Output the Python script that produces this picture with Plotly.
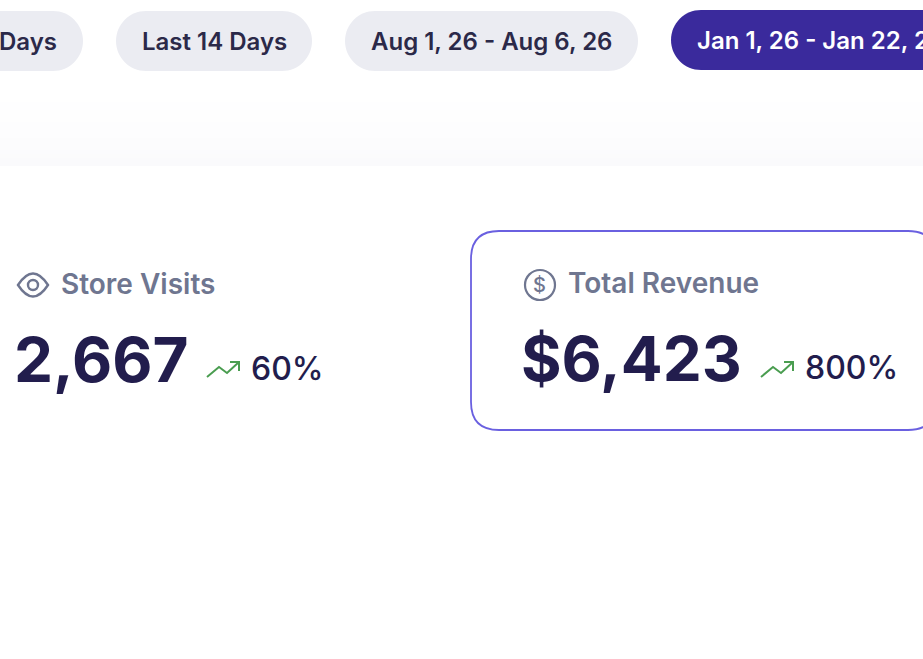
import plotly.graph_objects as go

range_labels = ['Last 7 Days', 'Last 14 Days', 'Aug 1, 26 - Aug 6, 26', 'Jan 1, 26 - Jan 22, 26']
metric_names = ['Store Visits', 'Total Revenue']
metric_values = ['2,667', '$6,423']
metric_changes = ['60%', '800%']

DARK = '#221d4d'
PILL_TEXT = '#2b2949'
GREY = '#6f7690'
GREEN = '#4a9d50'
FONT = 'Inter'


def pill(x0, x1, y0, y1, color):
    # plotly does not take SVG arcs on data axes, so the round ends are cubic curves
    r = (y1 - y0) / 2
    k = r * 0.5523
    path = (
        f'M {x0+r} {y0} L {x1-r} {y0} '
        f'C {x1-r+k} {y0} {x1} {y0+r-k} {x1} {y0+r} '
        f'C {x1} {y0+r+k} {x1-r+k} {y1} {x1-r} {y1} '
        f'L {x0+r} {y1} '
        f'C {x0+r-k} {y1} {x0} {y0+r+k} {x0} {y0+r} '
        f'C {x0} {y0+r-k} {x0+r-k} {y0} {x0+r} {y0} Z'
    )
    return dict(type='path', path=path, fillcolor=color, line_width=0)


def trend_arrow(dx):
    line = dict(color=GREEN, width=2)
    return [
        dict(type='path', path=f'M {207+dx} 377 L {219+dx} 367 L {227+dx} 373 L {239+dx} 362', line=line),
        dict(type='path', path=f'M {230+dx} 362 L {239+dx} 362 L {239+dx} 371', line=line),
    ]


def label(x, y, text, size, color, weight=500, anchor='left'):
    return dict(
        x=x, y=y, text=text, xref='x', yref='y', showarrow=False,
        xanchor=anchor, yanchor='middle',
        font=dict(family=FONT, size=size, color=color, weight=weight),
    )


shapes = []

# soft band under the filter row, fades down to a hard edge
for i in range(24):
    t = (i / 23) ** 2
    level = (255 - round(5 * t), 255 - round(5 * t), 255 - round(3 * t))
    shapes.append(dict(type='rect', x0=0, x1=923, y0=70 + i * 4, y1=74 + i * 4,
                       fillcolor=f'rgb{level}', line_width=0, layer='below'))

shapes.append(pill(-120, 83, 11, 71, '#ebecf2'))
shapes.append(pill(116, 312, 11, 71, '#ebecf2'))
shapes.append(pill(345, 638, 11, 71, '#ebecf2'))
shapes.append(pill(671, 1000, 10, 70, '#3a2a9c'))

# revenue card outline
shapes.append(dict(
    type='path',
    path='M 499 231 L 908 231 Q 936 231 936 259 L 936 402 Q 936 430 908 430 L 499 430 Q 471 430 471 402 L 471 259 Q 471 231 499 231 Z',
    line=dict(color='#6a60e0', width=1.8),
))

# eye icon
shapes.append(dict(type='path', path='M 18 285 Q 33 262 48 285 Q 33 308 18 285 Z', line=dict(color=GREY, width=2.4)))
shapes.append(dict(type='circle', x0=28, x1=38, y0=280, y1=290, line=dict(color=GREY, width=2.4)))

# dollar icon
shapes.append(dict(type='circle', x0=525, x1=555, y0=270, y1=300, line=dict(color=GREY, width=2.2)))

shapes += trend_arrow(0)
shapes += trend_arrow(554)

annotations = [
    label(59, 41, range_labels[0], 24, PILL_TEXT, 600, 'right'),
    label(214, 41, range_labels[1], 24, PILL_TEXT, 600, 'center'),
    label(491, 41, range_labels[2], 24, PILL_TEXT, 600, 'center'),
    label(695, 40, range_labels[3], 24, '#ffffff', 600),
    label(59, 284, metric_names[0], 28, GREY, 600),
    label(566, 283, metric_names[1], 28, GREY, 600),
    label(539.5, 285, '$', 20, GREY, 500, 'center'),
    label(12, 359, metric_values[0], 62, DARK, 700),
    label(519, 358, metric_values[1], 62, DARK, 700),
    label(249, 368, metric_changes[0], 32, DARK, 500),
    label(803, 367, metric_changes[1], 32, DARK, 500),
]

fig = go.Figure()
fig.update_layout(
    width=923,
    height=659,
    margin=dict(l=0, r=0, t=0, b=0),
    paper_bgcolor='white',
    plot_bgcolor='white',
    xaxis=dict(range=[0, 923], visible=False, fixedrange=True),
    yaxis=dict(range=[659, 0], visible=False, fixedrange=True),
    shapes=shapes,
    annotations=annotations,
    showlegend=False,
)
fig.write_html('out.html', post_script="document.body.style.margin='0';", config={'displayModeBar': False})
